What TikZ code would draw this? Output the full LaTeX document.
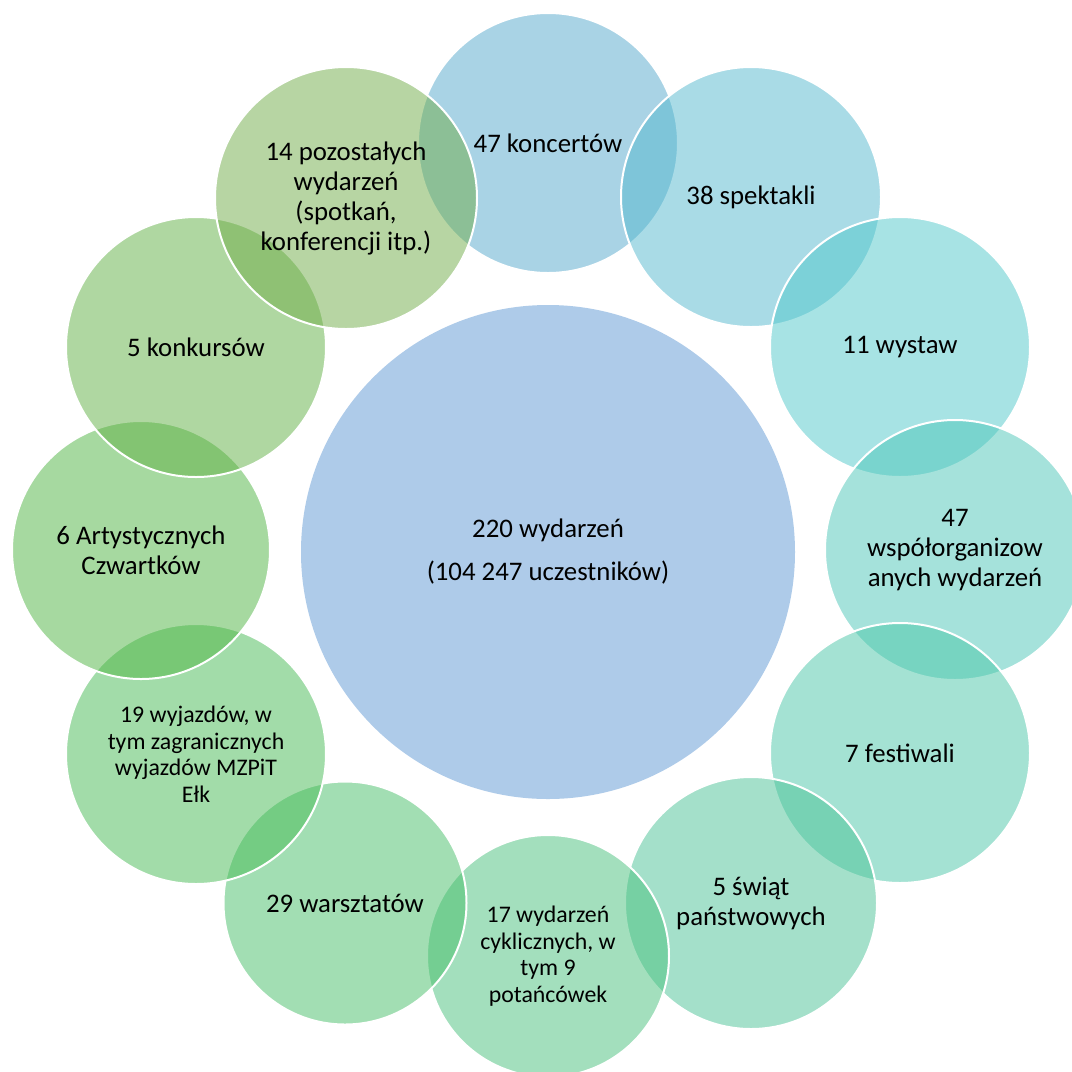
\documentclass[tikz,border=0pt]{standalone}
\usepackage{fontspec}
\setmainfont{Carlito}
\definecolor{cc}{RGB}{174,203,233}
\definecolor{c1}{RGB}{85,169,205}
\definecolor{c2}{RGB}{85,185,207}
\definecolor{c3}{RGB}{81,201,203}
\definecolor{c4}{RGB}{77,199,185}
\definecolor{c5}{RGB}{75,199,169}
\definecolor{c6}{RGB}{75,195,151}
\definecolor{c7}{RGB}{73,193,125}
\definecolor{c8}{RGB}{71,191,105}
\definecolor{c9}{RGB}{71,187,85}
\definecolor{c10}{RGB}{79,181,67}
\definecolor{c11}{RGB}{97,177,69}
\definecolor{c12}{RGB}{113,173,73}
\begin{document}
\begin{tikzpicture}[x=1pt,y=-1pt]
\tikzset{
  bubble/.style={circle, draw=white, line width=2pt, fill opacity=0.5, text opacity=1,
    minimum size=#1, inner sep=0pt, align=center, text=black,
    font=\fontsize{26.8}{30}\selectfont},
  smalltext/.style={font=\fontsize{23.8}{26.5}\selectfont},
  hub/.style={circle, fill=cc, minimum size=494, inner sep=0pt, align=center,
    text=black, font=\fontsize{26.8}{43}\selectfont}
}
\useasboundingbox (0,0) rectangle (1072,1072);
\fill[white] (0,0) rectangle (1072,1072);
\node[hub] (c) at (548,552) {220 wydarzeń\\(104 247 uczestników)};
\node[bubble=260, fill=c1] (n1) at (548,143) {47 koncertów};
\node[bubble=260, fill=c2] (n2) at (751,197) {38 spektakli};
\node[bubble=260, fill=c3] (n3) at (900,347) {11 wystaw};
\node[bubble=260, fill=c4] (n4) at (955,550) {47\\współorganizow\\anych wydarzeń};
\node[bubble=260, fill=c5] (n5) at (900,753) {7 festiwali};
\node[bubble=252, fill=c6] (n6) at (751,903) {5 świąt\\państwowych};
\node[bubble=242, fill=c7, smalltext] (n7) at (548,956) {17 wydarzeń\\cyklicznych, w\\tym 9\\potańcówek};
\node[bubble=243, fill=c8] (n8) at (345,903) {29 warsztatów};
\node[bubble=260, fill=c9, smalltext] (n9) at (196,754) {19 wyjazdów, w\\tym zagranicznych\\wyjazdów MZPiT\\Ełk};
\node[bubble=258, fill=c10] (n10) at (141,550) {6 Artystycznych\\Czwartków};
\node[bubble=260, fill=c11] (n11) at (196,347) {5 konkursów};
\node[bubble=262, fill=c12] (n12) at (346,198) {14 pozostałych\\wydarzeń\\(spotkań,\\konferencji itp.)};
\end{tikzpicture}
\end{document}
